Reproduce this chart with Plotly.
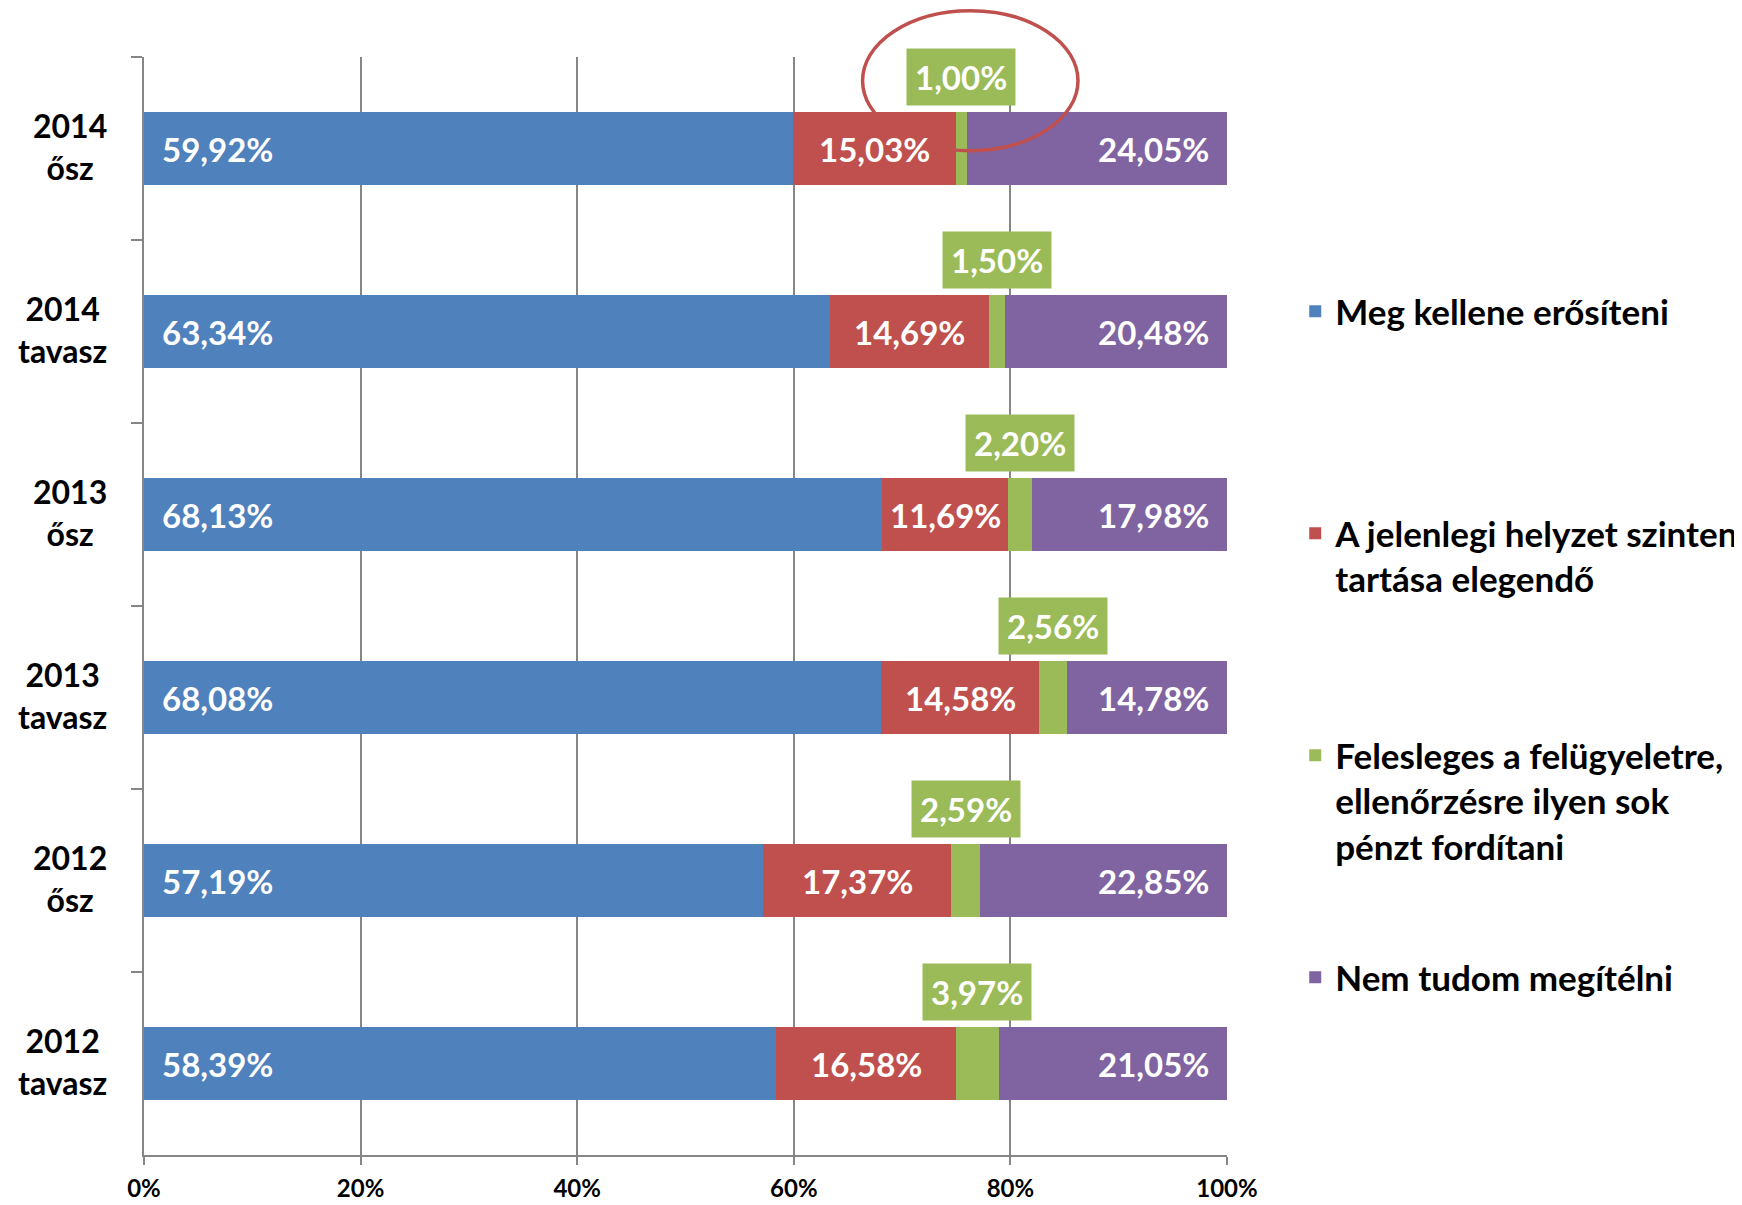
import plotly.graph_objects as go

# ---------------- data ----------------
categories = ["2014 ősz", "2014 tavasz", "2013 ősz", "2013 tavasz", "2012 ősz", "2012 tavasz"]
category_labels = ["2014<br>ősz", "2014<br>tavasz", "2013<br>ősz", "2013<br>tavasz", "2012<br>ősz", "2012<br>tavasz"]

series_names = [
    "Meg kellene erősíteni",
    "A jelenlegi helyzet szinten<br>tartása elegendő",
    "Felesleges a felügyeletre,<br>ellenőrzésre ilyen sok<br>pénzt fordítani",
    "Nem tudom megítélni",
]
meg_kellene = [59.92, 63.34, 68.13, 68.08, 57.19, 58.39]
jelenlegi = [15.03, 14.69, 11.69, 14.58, 17.37, 16.58]
felesleges = [1.00, 1.50, 2.20, 2.56, 2.59, 3.97]
nem_tudom = [24.05, 20.48, 17.98, 14.78, 22.85, 21.05]

x_tick_values = [0, 20, 40, 60, 80, 100]
x_tick_labels = ["0%", "20%", "40%", "60%", "80%", "100%"]

# ---------------- style ----------------
colors = ["#4F81BD", "#C0504D", "#9BBB59", "#8064A2"]
grey = "#868686"
FONT = "Lato"
LABEL_SIZE = 33

def fmt(v):
    return f"{v:.2f}".replace(".", ",") + "%"

series = [meg_kellene, jelenlegi, felesleges, nem_tudom]

fig = go.Figure()
legend_ids = ["legend", "legend2", "legend3", "legend4"]
for name, vals, col, lg in zip(series_names, series, colors, legend_ids):
    fig.add_trace(go.Bar(
        y=categories, x=vals, name=name, orientation="h",
        marker=dict(color=col, line=dict(width=0)),
        legend=lg, hoverinfo="x+name",
    ))

label_font = dict(family=FONT, size=LABEL_SIZE, color="white", weight=700)
annotations = []
# category labels (two lines, centred)
for cat, lab in zip(categories, category_labels):
    annotations.append(dict(
        xref="paper", x=0, xshift=-35, xanchor="right", align="center",
        yref="y", y=cat, yanchor="middle", yshift=2, text=lab, showarrow=False,
        font=dict(family=FONT, size=32, color="black", weight=700),
    ))

for i, cat in enumerate(categories):
    b, r, g, p = meg_kellene[i], jelenlegi[i], felesleges[i], nem_tudom[i]
    # blue: inside start
    annotations.append(dict(
        x=0, xshift=16, xanchor="left", y=cat, yanchor="middle", text=fmt(b),
        showarrow=False, font=label_font))
    # red: centred in segment
    annotations.append(dict(
        x=b + r / 2, xanchor="center", y=cat, yanchor="middle", text=fmt(r),
        showarrow=False, font=label_font))
    # green: boxed label above bar
    annotations.append(dict(
        x=b + r + g / 2, xanchor="center", y=i - 0.2, yshift=6, yanchor="bottom",
        text=fmt(g), showarrow=False, bgcolor=colors[2], borderpad=8,
        font=label_font))
    # purple: inside end (right edge of the 100% stack)
    annotations.append(dict(
        xref="paper", x=1, xshift=-16, xanchor="right", y=cat, yanchor="middle",
        text=fmt(p), showarrow=False, font=label_font))

legend_common = dict(
    x=1.063, xanchor="left", yanchor="top", valign="top",
    bgcolor="rgba(0,0,0,0)", borderwidth=0,
    font=dict(family=FONT, size=35, color="black", weight=700),
)
legend_first_line_px = [312, 534, 756, 978]
plot_top, plot_h = 57, 1098
legend_layouts = {}
for lg, py in zip(legend_ids, legend_first_line_px):
    yp = 1 - (py - 30 - plot_top) / plot_h
    legend_layouts[lg] = dict(legend_common, y=yp)

fig.update_layout(
    width=1734, height=1197,
    margin=dict(l=136, r=515, t=49, b=50, autoexpand=False),
    paper_bgcolor="white", plot_bgcolor="white",
    barmode="stack", bargap=0.6,
    font=dict(family=FONT, color="black"),
    showlegend=True,
    annotations=annotations,
    shapes=[dict(
        type="circle", xref="paper", yref="paper",
        x0=0.6635, x1=0.8624, y0=0.9147, y1=1.0422,
        line=dict(color="#C0504D", width=3.5), layer="above",
    )],
    xaxis=dict(
        range=[0, 100], tickvals=x_tick_values, ticktext=x_tick_labels,
        showgrid=True, gridcolor=grey, gridwidth=1.5,
        showline=True, linecolor=grey, linewidth=2,
        ticks="outside", ticklen=8, tickcolor=grey, tickwidth=1.5,
        ticklabelstandoff=3, zeroline=False, automargin=False,
        tickfont=dict(family=FONT, size=24, color="black", weight=700),
        fixedrange=True,
    ),
    yaxis=dict(
        categoryorder="array", categoryarray=categories, autorange="reversed",
        showticklabels=False, showgrid=False, zeroline=False, automargin=False,
        showline=True, linecolor=grey, linewidth=2,
        ticks="outside", tickson="boundaries", ticklen=11, tickcolor=grey, tickwidth=1.5,
        fixedrange=True,
    ),
    **legend_layouts,
)

fig.write_html("out.html")
